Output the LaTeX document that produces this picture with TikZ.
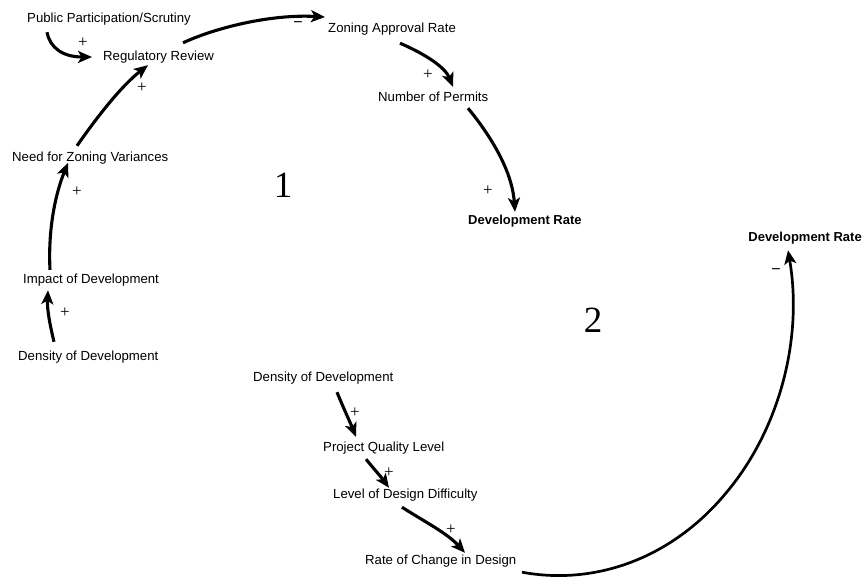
\documentclass[tikz,border=0pt]{standalone}
\usepackage{fontspec}
\setmainfont{Liberation Sans}
\newfontfamily\seriffont{Liberation Serif}
\usetikzlibrary{arrows.meta}
\begin{document}
\begin{tikzpicture}[x=1pt,y=-1pt,
  var/.style={inner sep=0pt, anchor=west, font=\fontsize{13.2}{15}\selectfont,
              text height=10pt, text depth=2pt},
  boldvar/.style={var, font=\fontsize{13}{15}\selectfont\bfseries},
  link/.style={line width=3.1pt, -{Stealth[length=14pt,width=12pt,inset=3.5pt]}},
  longlink/.style={link, line width=2.7pt},
  sign/.style={inner sep=0pt, font=\seriffont\fontsize{17}{18}\selectfont},
  negsign/.style={inner sep=0pt, font=\fontsize{16}{18}\selectfont},
  loopnum/.style={inner sep=0pt, font=\seriffont\fontsize{37}{40}\selectfont}]
\useasboundingbox (0,0) rectangle (863,577);

% loop 1 variables
\node[var] (pub)  at (27,19)  {Public Participation/Scrutiny};
\node[var] (reg)  at (103,57) {Regulatory Review};
\node[var] (zar)  at (328,29) {Zoning Approval Rate};
\node[var] (nop)  at (378,98) {Number of Permits};
\node[boldvar] (dr1) at (468,221) {Development Rate};
\node[var] (nzv)  at (12,158) {Need for Zoning Variances};
\node[var] (iod)  at (23,280) {Impact of Development};
\node[var] (dod1) at (18,357) {Density of Development};

% loop 2 variables
\node[var] (dod2) at (253,378) {Density of Development};
\node[var] (pql)  at (323,448) {Project Quality Level};
\node[var] (ldd)  at (333,495) {Level of Design Difficulty};
\node[var] (rcd)  at (365,560) {Rate of Change in Design};
\node[boldvar, anchor=east] (dr2) at (862,238) {Development Rate};

% loop numbers
\node[loopnum] (n1) at (283,185) {1};
\node[loopnum] (n2) at (593,320) {2};

% loop 1 links
\draw[link] ([xshift=20pt,yshift=-7pt]pub.south west) .. controls (50,48) and (63,57) .. ([xshift=-11pt]reg.west);
\draw[link] ([xshift=80pt,yshift=8pt]reg.north west) .. controls (215,28) and (270,14) .. ([xshift=-3pt,yshift=12pt]zar.west);
\draw[link] ([xshift=72pt,yshift=-8pt]zar.south west) .. controls (425,54) and (445,67) .. ([xshift=75pt,yshift=5pt]nop.north west);
\draw[link] ([xshift=90pt,yshift=-4pt]nop.south west) .. controls (490,135) and (512,170) .. ([xshift=47pt,yshift=3pt]dr1.north west);
\draw[link] ([xshift=36pt,yshift=9pt]dod1.north west) .. controls (50,325) and (47,310) .. ([xshift=25pt,yshift=-4pt]iod.south west);
\draw[link] ([xshift=27pt,yshift=4pt]iod.north west) .. controls (48,230) and (55,195) .. ([xshift=56pt,yshift=-11pt]nzv.north west);
\draw[link] ([xshift=65pt,yshift=6pt]nzv.north west) .. controls (95,120) and (120,87) .. ([xshift=45pt,yshift=-2pt]reg.south west);

% loop 2 links
\draw[link] ([xshift=84pt,yshift=-8pt]dod2.south west) .. controls (343,407) and (350,422) .. ([xshift=33pt,yshift=5pt]pql.north west);
\draw[link] ([xshift=43pt,yshift=-5pt]pql.south west) .. controls (374,469) and (382,478) .. ([xshift=56pt,yshift=1pt]ldd.north west);
\draw[link] ([xshift=69pt,yshift=-6pt]ldd.south west) .. controls (425,522) and (447,533) .. ([xshift=100pt,yshift=1pt]rcd.north west);
\draw[longlink] ([xshift=157pt,yshift=-6pt]rcd.south west) .. controls (597,586) and (673,557) .. (726,493)
            .. controls (780,429) and (803,338) .. ([xshift=-74pt,yshift=-6pt]dr2.south east);

% link polarities
\node[sign] at (83,43)  {+};
\node[negsign] at (298,25) {\textminus};
\node[sign] at (428,75) {+};
\node[sign] at (488,191) {+};
\node[sign] at (65,313) {+};
\node[sign] at (77,192) {+};
\node[sign] at (142,88) {+};
\node[sign] at (355,413) {+};
\node[sign] at (389,473) {+};
\node[sign] at (451,530) {+};
\node[negsign] at (776,272) {\textminus};
\end{tikzpicture}
\end{document}
